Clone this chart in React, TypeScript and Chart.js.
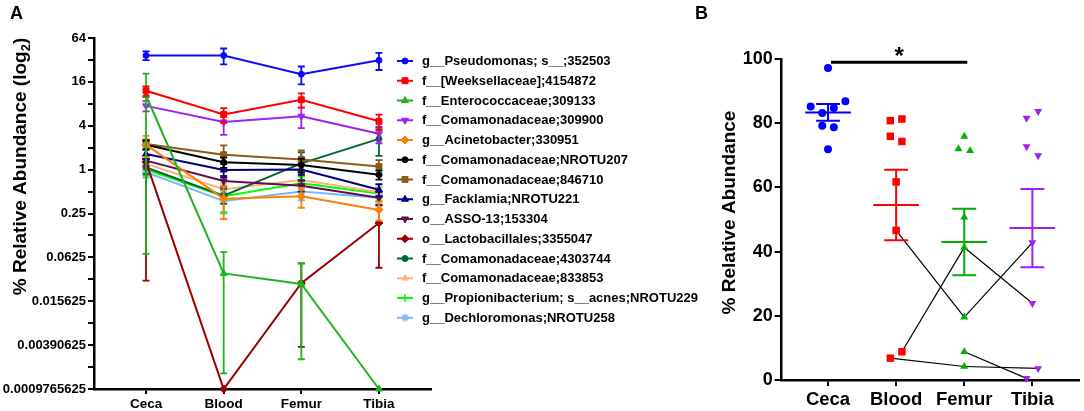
import React, { useEffect, useRef } from 'react';
import { Chart, registerables } from 'chart.js';
import { drawPoint } from 'chart.js/helpers';

Chart.register(...registerables);

const FONT = '"Liberation Sans", Arial, Helvetica, sans-serif';
Chart.defaults.font.family = FONT;
Chart.defaults.color = '#000';

// ---------------- Panel A data ----------------
const sites = ['Ceca', 'Blood', 'Femur', 'Tibia'];
const yTicksA = [0.0009765625, 0.001953125, 0.00390625, 0.0078125, 0.015625, 0.03125, 0.0625, 0.125, 0.25, 0.5, 1, 2, 4, 8, 16, 32, 64];
const yTickLabelsA = ['0.0009765625', '', '0.00390625', '', '0.015625', '', '0.0625', '', '0.25', '', '1', '', '4', '', '16', '', '64'];
const yTitleA = '% Relative Abundance (log';
const yTitleSubA = '2';

const taxaNames = [
  'g__Pseudomonas; s__;352503',
  'f__[Weeksellaceae];4154872',
  'f__Enterococcaceae;309133',
  'f__Comamonadaceae;309900',
  'g__Acinetobacter;330951',
  'f__Comamonadaceae;NROTU207',
  'f__Comamonadaceae;846710',
  'g__Facklamia;NROTU221',
  'o__ASSO-13;153304',
  'o__Lactobacillales;3355047',
  'f__Comamonadaceae;4303744',
  'f__Comamonadaceae;833853',
  'g__Propionibacterium; s__acnes;NROTU229',
  'g__Dechloromonas;NROTU258',
];

// mean % relative abundance per site (Ceca, Blood, Femur, Tibia) and SEM
const pseudomonasMean = [36.9, 36.9, 20.4, 31.6];
const pseudomonasSem = [5.0, 9.0, 5.6, 8.3];
const weeksellaceaeMean = [12.1, 5.7, 9.1, 4.6];
const weeksellaceaeSem = [1.8, 1.3, 2.0, 1.1];
const enterococcaceaeMean = [10.4, 0.0376, 0.027, 0.0009765625];
const enterococcaceaeSem = [10.33, 0.036, 0.0245, 0];
const comamonad309900Mean = [7.5, 4.5, 5.4, 3.1];
const comamonad309900Sem = [1.2, 1.5, 1.7, 0.8];
const acinetobacterMean = [2.2, 0.4, 0.43, 0.28];
const acinetobacterSem = [0.7, 0.19, 0.13, 0.08];
const comamonad207Mean = [2.2, 1.26, 1.16, 0.85];
const comamonad207Sem = [0.3, 0.2, 0.25, 0.12];
const comamonad846710Mean = [2.25, 1.6, 1.38, 1.1];
const comamonad846710Sem = [0.35, 0.55, 0.45, 0.25];
const facklamiaMean = [1.64, 0.99, 1.0, 0.53];
const facklamiaSem = [0.25, 0.2, 0.15, 0.1];
const asso13Mean = [1.33, 0.7, 0.6, 0.41];
const asso13Sem = [0.2, 0.12, 0.1, 0.08];
const lactobacillalesMean = [1.28, 0.0009765625, 0.0277, 0.185];
const lactobacillalesSem = [1.25, 0, 0.024, 0.14];
const comamonad4303744Mean = [1.07, 0.44, 1.22, 2.64];
const comamonad4303744Sem = [0.2, 0.1, 0.5, 1.1];
const comamonad833853Mean = [1.2, 0.54, 0.72, 0.49];
const comamonad833853Sem = [0.2, 0.1, 0.12, 0.08];
const propionibacteriumMean = [1.0, 0.43, 0.65, 0.47];
const propionibacteriumSem = [0.18, 0.17, 0.15, 0.1];
const dechloromonasMean = [0.92, 0.37, 0.5, 0.41];
const dechloromonasSem = [0.15, 0.12, 0.12, 0.1];

const taxaMeans = [
  pseudomonasMean, weeksellaceaeMean, enterococcaceaeMean, comamonad309900Mean,
  acinetobacterMean, comamonad207Mean, comamonad846710Mean, facklamiaMean,
  asso13Mean, lactobacillalesMean, comamonad4303744Mean, comamonad833853Mean,
  propionibacteriumMean, dechloromonasMean,
];
const taxaSems = [
  pseudomonasSem, weeksellaceaeSem, enterococcaceaeSem, comamonad309900Sem,
  acinetobacterSem, comamonad207Sem, comamonad846710Sem, facklamiaSem,
  asso13Sem, lactobacillalesSem, comamonad4303744Sem, comamonad833853Sem,
  propionibacteriumSem, dechloromonasSem,
];
const taxaColors = [
  '#0a0aff', '#ff0000', '#1fb41f', '#a020f0', '#ff7f00', '#000000', '#8c5a1a',
  '#000080', '#5c0f4e', '#990000', '#006633', '#ffb07a', '#00ff00', '#80b4f5',
];
const taxaMarkers: [string, number, number][] = [
  ['circle', 0, 3], ['rect', 0, 4.2], ['triangle', 0, 4], ['triangle', 180, 4],
  ['rectRot', 0, 4], ['circle', 0, 3], ['rect', 0, 4.2], ['triangle', 0, 4],
  ['triangle', 180, 4], ['rectRot', 0, 4], ['circle', 0, 3], ['triangle', 0, 3.5],
  ['cross', 0, 4], ['star', 0, 4],
];

// ---------------- Panel B data ----------------
const yTicksB = [0, 20, 40, 60, 80, 100];
const yTitleB = '% Relative Abundance';
const cecaPct = [97.2, 85.2, 83.2, 84.7, 86.8, 79.2, 78.7, 71.9];
const bloodPct = [80.8, 81.3, 75.9, 74.3, 61.7, 46.6, 6.8, 8.8];
const femurPct = [75.9, 72.0, 71.4, 50.7, 41.3, 19.6, 8.8, 4.2];
const tibiaPct = [81.6, 83.7, 72.7, 69.9, 42.8, 23.9, 0.5, 3.6];
const groupValues = [cecaPct, bloodPct, femurPct, tibiaPct];
// paired samples: [fromGroup, fromIndex, toGroup, toIndex]
const pairedSamples = [
  [1, 5, 2, 5], [1, 7, 2, 4], [1, 6, 2, 7],
  [2, 4, 3, 5], [2, 5, 3, 4], [2, 6, 3, 6], [2, 7, 3, 7],
];
const sigGroups = [0, 2];
const sigLevel = 99;
const sigMark = '*';
const groupColors = ['#0000ff', '#ff0000', '#00b000', '#a020f0'];
const groupMarkers: [string, number, number][] = [
  ['circle', 0, 4], ['rect', 0, 5.3], ['triangle', 0, 4.6], ['triangle', 180, 4.6],
];

// ---------------- helpers ----------------
function mean(v: number[]) { return v.reduce((a, b) => a + b, 0) / v.length; }
function sem(v: number[]) {
  const m = mean(v);
  const sd = Math.sqrt(v.reduce((a, b) => a + (b - m) * (b - m), 0) / (v.length - 1));
  return sd / Math.sqrt(v.length);
}
// Prism-like column scatter: cluster close values, spread them side by side
function swarmOffsets(values: number[], threshold: number, step: number) {
  const order = values.map((_, i) => i).sort((a, b) => values[a] - values[b]);
  const offsets = values.map(() => 0);
  let cluster: number[] = [];
  let start: number | null = null;
  const flush = () => {
    const byIdx = cluster.slice().sort((a, b) => a - b);
    const n = byIdx.length;
    byIdx.forEach((k, j) => { offsets[k] = (j - (n - 1) / 2) * step; });
  };
  for (const i of order) {
    if (start === null || values[i] - start > threshold) {
      flush();
      cluster = [];
      start = values[i];
    }
    cluster.push(i);
  }
  flush();
  return offsets;
}

const boldFont = (size: number) => ({ family: FONT, size, weight: 'bold' as const });

// ---------------- plugins ----------------
const errorBarsA = {
  id: 'errorBarsA',
  afterDatasetDraw(chart: any, args: any) {
    const ds = chart.data.datasets[args.index];
    const xs = chart.scales.x;
    const ys = chart.scales.y;
    const ctx = chart.ctx;
    ctx.save();
    ctx.strokeStyle = ds.borderColor;
    ctx.lineWidth = 1.8;
    ds.data.forEach((p: any, i: number) => {
      const s = ds.sem[i];
      if (!s) return;
      const px = xs.getPixelForValue(p.x);
      const top = ys.getPixelForValue(p.y + s);
      const bottom = ys.getPixelForValue(Math.max(p.y - s, ys.min));
      ctx.beginPath();
      ctx.moveTo(px, top); ctx.lineTo(px, bottom);
      ctx.moveTo(px - 3.5, top); ctx.lineTo(px + 3.5, top);
      ctx.moveTo(px - 3.5, bottom); ctx.lineTo(px + 3.5, bottom);
      ctx.stroke();
    });
    ctx.restore();
  },
};

const decorA = {
  id: 'decorA',
  afterDraw(chart: any) {
    const ctx = chart.ctx;
    const area = chart.chartArea;
    ctx.save();
    // legend
    const lx = area.right - 34;
    const ly = area.top + 23;
    chart.data.datasets.forEach((ds: any, i: number) => {
      const y = ly + i * 19.75;
      ctx.strokeStyle = ds.borderColor;
      ctx.fillStyle = ds.borderColor;
      ctx.lineWidth = 2;
      ctx.beginPath(); ctx.moveTo(lx, y); ctx.lineTo(lx + 16, y); ctx.stroke();
      ctx.lineWidth = ds.pointStyle === 'cross' || ds.pointStyle === 'star' ? 1.5 : 1;
      drawPoint(ctx, { pointStyle: ds.pointStyle, rotation: ds.pointRotation || 0, radius: ds.pointRadius, borderWidth: ctx.lineWidth }, lx + 8, y);
      ctx.fillStyle = '#000';
      ctx.font = `bold 13px ${FONT}`;
      ctx.textBaseline = 'middle';
      ctx.textAlign = 'left';
      ctx.fillText(ds.label, lx + 25, y + 0.5);
    });
    // panel letter
    ctx.fillStyle = '#000';
    ctx.font = `bold 18px ${FONT}`;
    ctx.textBaseline = 'alphabetic';
    ctx.fillText('A', 10, 19);
    // y title with subscript
    ctx.translate(26, (area.top + area.bottom) / 2 - 47);
    ctx.rotate(-Math.PI / 2);
    ctx.font = `bold 19px ${FONT}`;
    const w1 = ctx.measureText(yTitleA).width;
    const w3 = ctx.measureText(')').width;
    ctx.font = `bold 13px ${FONT}`;
    const w2 = ctx.measureText(yTitleSubA).width;
    const x0 = -(w1 + w2 + w3) / 2;
    ctx.font = `bold 19px ${FONT}`;
    ctx.fillText(yTitleA, x0, 0);
    ctx.fillText(')', x0 + w1 + w2, 0);
    ctx.font = `bold 13px ${FONT}`;
    ctx.fillText(yTitleSubA, x0 + w1, 4);
    ctx.restore();
  },
};

const decorB = {
  id: 'decorB',
  afterDatasetsDraw(chart: any) {
    const ctx = chart.ctx;
    const xs = chart.scales.x;
    const ys = chart.scales.y;
    ctx.save();
    groupValues.forEach((vals, g) => {
      const m = mean(vals);
      const s = sem(vals);
      const py = ys.getPixelForValue(m);
      const pt = ys.getPixelForValue(m + s);
      const pb = ys.getPixelForValue(m - s);
      ctx.strokeStyle = groupColors[g];
      ctx.lineWidth = 2;
      ctx.beginPath();
      ctx.moveTo(xs.getPixelForValue(g - 0.335), py); ctx.lineTo(xs.getPixelForValue(g + 0.335), py);
      ctx.moveTo(xs.getPixelForValue(g), pt); ctx.lineTo(xs.getPixelForValue(g), pb);
      ctx.moveTo(xs.getPixelForValue(g - 0.175), pt); ctx.lineTo(xs.getPixelForValue(g + 0.175), pt);
      ctx.moveTo(xs.getPixelForValue(g - 0.175), pb); ctx.lineTo(xs.getPixelForValue(g + 0.175), pb);
      ctx.stroke();
    });
    // significance bar
    const sy = ys.getPixelForValue(sigLevel);
    const sx1 = xs.getPixelForValue(sigGroups[0]) + 3;
    const sx2 = xs.getPixelForValue(sigGroups[1]) + 3;
    ctx.strokeStyle = '#000';
    ctx.lineWidth = 3;
    ctx.beginPath(); ctx.moveTo(sx1, sy); ctx.lineTo(sx2, sy); ctx.stroke();
    ctx.fillStyle = '#000';
    ctx.font = `bold 24px ${FONT}`;
    ctx.textAlign = 'center';
    ctx.textBaseline = 'alphabetic';
    ctx.fillText(sigMark, (sx1 + sx2) / 2, sy + 2);
    ctx.restore();
  },
  afterDraw(chart: any) {
    const ctx = chart.ctx;
    const area = chart.chartArea;
    ctx.save();
    ctx.fillStyle = '#000';
    ctx.font = `bold 18px ${FONT}`;
    ctx.textBaseline = 'alphabetic';
    ctx.fillText('B', 5, 19);
    ctx.translate(45, (area.top + area.bottom) / 2 - 7);
    ctx.rotate(-Math.PI / 2);
    ctx.font = `bold 19px ${FONT}`;
    ctx.textAlign = 'center';
    ctx.fillText(yTitleB, 0, 0);
    ctx.restore();
  },
};

// ---------------- configs ----------------
function configA(): any {
  return {
    type: 'line',
    data: {
      datasets: taxaNames.map((name, k) => ({
        label: name,
        data: taxaMeans[k].map((v, i) => ({ x: i, y: v })),
        sem: taxaSems[k],
        borderColor: taxaColors[k],
        backgroundColor: taxaColors[k],
        pointBackgroundColor: taxaColors[k],
        pointBorderColor: taxaColors[k],
        borderWidth: 2,
        pointStyle: taxaMarkers[k][0],
        pointRotation: taxaMarkers[k][1],
        pointRadius: taxaMarkers[k][2],
        pointBorderWidth: taxaMarkers[k][0] === 'cross' || taxaMarkers[k][0] === 'star' ? 1.5 : 1,
        tension: 0,
        clip: false,
      })),
    },
    options: {
      responsive: false,
      animation: false,
      events: [],
      layout: { padding: { top: 38, right: 289, left: 0, bottom: 0 } },
      plugins: { legend: { display: false }, tooltip: { enabled: false } },
      scales: {
        x: {
          type: 'linear',
          min: -0.67,
          max: 3.67,
          afterBuildTicks: (s: any) => { s.ticks = sites.map((_, i) => ({ value: i })); },
          afterFit: (s: any) => { s.height = 22; },
          ticks: {
            autoSkip: false, maxRotation: 0, padding: 2, color: '#000', font: boldFont(13.5),
            callback: (v: any) => sites[Math.round(v)],
          },
          grid: { drawOnChartArea: false, drawTicks: true, tickLength: 5, color: '#000', lineWidth: 2 },
          border: { display: true, color: '#000', width: 2.5 },
        },
        y: {
          type: 'logarithmic',
          min: yTicksA[0],
          max: yTicksA[yTicksA.length - 1],
          afterBuildTicks: (s: any) => { s.ticks = yTicksA.map((v) => ({ value: v })); },
          afterFit: (s: any) => { s.width = 94; },
          ticks: {
            autoSkip: false, padding: 2, color: '#000', font: boldFont(13),
            callback: (_v: any, i: number) => yTickLabelsA[i],
          },
          grid: { drawOnChartArea: false, drawTicks: true, tickLength: 6, color: '#000', lineWidth: 2 },
          border: { display: true, color: '#000', width: 2.5 },
        },
      },
    },
    plugins: [errorBarsA, decorA],
  };
}

function configB(): any {
  const offsets = groupValues.map((v) => swarmOffsets(v, 4, 0.17));
  const linkSets = pairedSamples.map(([g1, i1, g2, i2]) => ({
    type: 'line',
    data: [
      { x: g1 + offsets[g1][i1], y: groupValues[g1][i1] },
      { x: g2 + offsets[g2][i2], y: groupValues[g2][i2] },
    ],
    borderColor: '#000',
    borderWidth: 1.2,
    pointRadius: 0,
    showLine: true,
    order: 2,
    clip: false,
  }));
  const pointSets = groupValues.map((vals, g) => ({
    type: 'scatter',
    label: sites[g],
    data: vals.map((v, j) => ({ x: g + offsets[g][j], y: v })),
    pointStyle: groupMarkers[g][0],
    pointRotation: groupMarkers[g][1],
    pointRadius: groupMarkers[g][2],
    pointBackgroundColor: groupColors[g],
    pointBorderColor: groupColors[g],
    pointBorderWidth: 0,
    showLine: false,
    order: 1,
    clip: false,
  }));
  return {
    type: 'scatter',
    data: { datasets: [...linkSets, ...pointSets] },
    options: {
      responsive: false,
      animation: false,
      events: [],
      layout: { padding: { top: 59, right: 2.3, left: 0, bottom: 0 } },
      plugins: { legend: { display: false }, tooltip: { enabled: false } },
      scales: {
        x: {
          type: 'linear',
          min: -0.68,
          max: 3.68,
          afterBuildTicks: (s: any) => { s.ticks = sites.map((_, i) => ({ value: i })); },
          afterFit: (s: any) => { s.height = 31; },
          ticks: {
            autoSkip: false, maxRotation: 0, padding: 3, color: '#000', font: boldFont(18.5),
            callback: (v: any) => sites[Math.round(v)],
          },
          grid: { drawOnChartArea: false, drawTicks: true, tickLength: 6, color: '#000', lineWidth: 2 },
          border: { display: true, color: '#000', width: 2.5 },
        },
        y: {
          type: 'linear',
          min: yTicksB[0],
          max: yTicksB[yTicksB.length - 1],
          afterBuildTicks: (s: any) => { s.ticks = yTicksB.map((v) => ({ value: v })); },
          afterFit: (s: any) => { s.width = 91.7; },
          ticks: { autoSkip: false, padding: 2, color: '#000', font: boldFont(18) },
          grid: { drawOnChartArea: false, drawTicks: true, tickLength: 7, color: '#000', lineWidth: 2 },
          border: { display: true, color: '#000', width: 2.5 },
        },
      },
    },
    plugins: [decorB],
  };
}

function ChartCanvas({ make, left, width, height }: { make: () => any; left: number; width: number; height: number }) {
  const ref = useRef<HTMLCanvasElement>(null);
  useEffect(() => {
    const chart = new Chart(ref.current as HTMLCanvasElement, make());
    return () => chart.destroy();
  }, []);
  return (
    <canvas
      ref={ref}
      width={width}
      height={height}
      style={{ position: 'absolute', left, top: 0, width, height }}
    />
  );
}

export default function App() {
  return (
    <div style={{ position: 'absolute', left: 0, top: 0, width: 1084, height: 411, background: '#fff', overflow: 'hidden' }}>
      <ChartCanvas make={configA} left={0} width={720} height={411} />
      <ChartCanvas make={configB} left={690} width={394} height={411} />
    </div>
  );
}
